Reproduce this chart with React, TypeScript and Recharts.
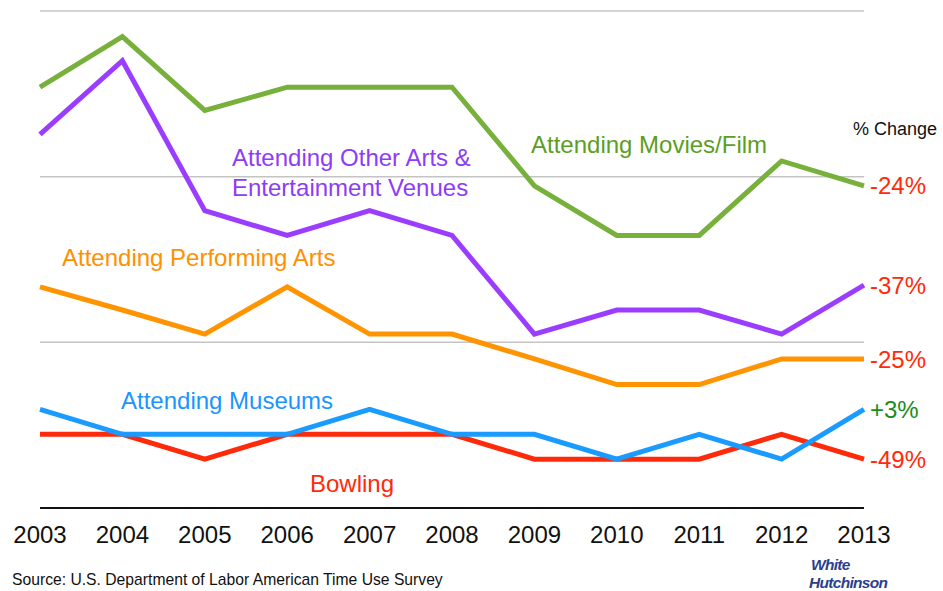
import React from 'react';
import { LineChart, Line, XAxis, YAxis, ReferenceLine, Customized } from 'recharts';

const years = [2003, 2004, 2005, 2006, 2007, 2008, 2009, 2010, 2011, 2012, 2013];
const movies = [50.8, 56.9, 48.0, 50.8, 50.8, 50.8, 38.9, 32.9, 32.9, 41.9, 38.9];
const otherArts = [45.1, 54.0, 35.9, 32.9, 35.9, 32.9, 21.0, 23.9, 23.9, 21.0, 26.9];
const performing = [26.7, 23.9, 21.0, 26.7, 21.0, 21.0, 18.0, 14.9, 14.9, 18.0, 18.0];
const museums = [11.9, 8.9, 8.9, 8.9, 11.9, 8.9, 8.9, 5.9, 8.9, 5.9, 11.9];
const bowling = [8.9, 8.9, 5.9, 8.9, 8.9, 8.9, 5.9, 5.9, 5.9, 8.9, 5.9];
const gridValues = [20, 40, 60];
const pctLabels = { movies: '-24%', otherArts: '-37%', performing: '-25%', museums: '+3%', bowling: '-49%' };

const data = years.map((y, i) => ({
  year: y,
  movies: movies[i],
  otherArts: otherArts[i],
  performing: performing[i],
  museums: museums[i],
  bowling: bowling[i],
}));

const FONT = '"Liberation Sans", Arial, Helvetica, sans-serif';
const RED = '#ff2a0a';

const makeEndLabel = (text: string, color: string) => (props: any) => {
  const { x, y, index } = props;
  if (index !== years.length - 1) return null;
  return (
    <text x={x + 6} y={y} dy="0.36em" fill={color} fontSize={24} fontFamily={FONT}>
      {text}
    </text>
  );
};

const Annotations = () => (
  <g fontFamily={FONT}>
    <text x={531} y={153} fill="#5c9e1e" fontSize={24}>Attending Movies/Film</text>
    <text x={232} y={166} fill="#8d3cf7" fontSize={24}>Attending Other Arts &amp;</text>
    <text x={232} y={196} fill="#8d3cf7" fontSize={24}>Entertainment Venues</text>
    <text x={62} y={266} fill="#ff9000" fontSize={24}>Attending Performing Arts</text>
    <text x={121} y={409} fill="#1a95ff" fontSize={24}>Attending Museums</text>
    <text x={310} y={492} fill={RED} fontSize={24}>Bowling</text>
    <text x={853} y={135} fill="#111" fontSize={18}>% Change</text>
    <text x={12} y={585} fill="#111" fontSize={15.7}>Source: U.S. Department of Labor American Time Use Survey</text>
    <text x={811} y={569.5} fill="#2b3f8c" fontSize={15.5} fontWeight="bold" fontStyle="italic" letterSpacing={-0.7}>White</text>
    <text x={809} y={587.5} fill="#2b3f8c" fontSize={15.5} fontWeight="bold" fontStyle="italic" letterSpacing={-0.7}>Hutchinson</text>
  </g>
);

export default function App() {
  return (
    <div style={{ position: 'absolute', left: 0, top: 0, background: '#fff' }}>
      <LineChart width={943} height={591} data={data} margin={{ top: 11, right: 79, bottom: 53, left: 40 }}>
        <XAxis
          dataKey="year"
          type="number"
          domain={[2003, 2013]}
          ticks={years}
          tickLine={false}
          axisLine={{ stroke: '#111', strokeWidth: 2 }}
          tick={{ fill: '#111', fontSize: 24, fontFamily: FONT }}
          tickMargin={12}
          interval={0}
          height={30}
        />
        <YAxis hide domain={[0, 60]} type="number" />
        {gridValues.map((v) => (
          <ReferenceLine key={v} y={v} stroke="#c4c4c4" strokeWidth={1.5} ifOverflow="visible" />
        ))}
        <Line dataKey="movies" stroke="#77b03b" strokeWidth={5} dot={false} isAnimationActive={false} strokeLinejoin="miter" label={makeEndLabel(pctLabels.movies, RED)} />
        <Line dataKey="otherArts" stroke="#9b3dff" strokeWidth={5} dot={false} isAnimationActive={false} strokeLinejoin="miter" label={makeEndLabel(pctLabels.otherArts, RED)} />
        <Line dataKey="performing" stroke="#ff9400" strokeWidth={5} dot={false} isAnimationActive={false} strokeLinejoin="miter" label={makeEndLabel(pctLabels.performing, RED)} />
        <Line dataKey="bowling" stroke="#ff2a0a" strokeWidth={5} dot={false} isAnimationActive={false} strokeLinejoin="miter" label={makeEndLabel(pctLabels.bowling, RED)} />
        <Line dataKey="museums" stroke="#1a9bff" strokeWidth={5} dot={false} isAnimationActive={false} strokeLinejoin="miter" label={makeEndLabel(pctLabels.museums, '#1a8c1a')} />
        <Customized component={Annotations} />
      </LineChart>
    </div>
  );
}
